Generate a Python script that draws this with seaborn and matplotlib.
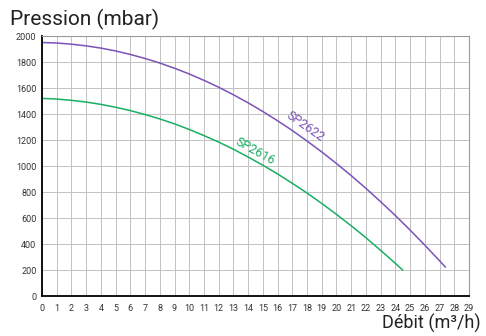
import numpy as np
import pandas as pd
import matplotlib
matplotlib.use("Agg")
import matplotlib.pyplot as plt
import seaborn as sns

# Courbes (débit m3/h, pression mbar)
debit_2622 = [0, 1, 2, 3, 4, 5, 6, 7, 8, 9, 10, 11, 12, 13, 14, 15, 16, 17, 18, 19,
              20, 21, 22, 23, 24, 25, 26, 27, 27.4]
pression_2622 = [1950, 1946, 1937, 1924, 1907, 1885, 1858, 1827, 1792, 1752, 1708, 1659,
                 1606, 1548, 1486, 1419, 1348, 1273, 1192, 1108, 1019, 926, 828, 725,
                 619, 507, 391, 271, 222]

debit_2616 = [0, 1, 2, 3, 4, 5, 6, 7, 8, 9, 10, 11, 12, 13, 14, 15, 16, 17, 18, 19,
              20, 21, 22, 23, 24, 24.5]
pression_2616 = [1520, 1515, 1505, 1492, 1474, 1452, 1426, 1396, 1362, 1324, 1281, 1234,
                 1184, 1129, 1069, 1006, 939, 867, 792, 712, 628, 540, 448, 351, 251, 199]

x_ticks = list(range(0, 30))
y_ticks = list(range(0, 2001, 200))

sns.set_style("white")
plt.rcParams["font.family"] = ["Roboto", "DejaVu Sans"]

df = pd.concat([
    pd.DataFrame({"debit": debit_2622, "pression": pression_2622, "pompe": "SP2622"}),
    pd.DataFrame({"debit": debit_2616, "pression": pression_2616, "pompe": "SP2616"}),
])
couleurs = {"SP2622": "#7b52b8", "SP2616": "#1aae62"}

fig = plt.figure(figsize=(4.86, 3.36), dpi=100)
ax = fig.add_axes([42 / 486, 40 / 336, 427 / 486, 260 / 336])

sns.lineplot(data=df, x="debit", y="pression", hue="pompe", palette=couleurs,
             linewidth=1.1, legend=False, ax=ax, sort=False)

ax.set_xlim(0, 29)
ax.set_ylim(0, 2000)
ax.set_xticks(x_ticks)
ax.set_yticks(y_ticks)
ax.set_xticks(np.arange(0.5, 29, 1), minor=True)
ax.set_yticks(np.arange(100, 2000, 200), minor=True)
ax.grid(True, which="major", color="#c2c2c2", linewidth=0.7)
ax.tick_params(axis="both", which="major", labelsize=6.5, colors="#333333", length=0, pad=4)
ax.tick_params(axis="x", which="minor", direction="in", length=2, color="#999999")
ax.tick_params(axis="y", which="minor", direction="inout", length=4, color="#999999")
ax.tick_params(axis="x", which="major", pad=6)
for s in ["top", "right"]:
    ax.spines[s].set_color("#999999")
    ax.spines[s].set_linewidth(0.8)
for s in ["left", "bottom"]:
    ax.spines[s].set_color("black")
    ax.spines[s].set_linewidth(1.3)
ax.set_xlabel("")
ax.set_ylabel("")

ax.text(17.9, 1300, "SP2622", color=couleurs["SP2622"], fontsize=9, rotation=-35,
        ha="center", va="center")
ax.text(14.5, 1110, "SP2616", color=couleurs["SP2616"], fontsize=9, rotation=-29,
        ha="center", va="center")

fig.text(10 / 486, 1 - 19 / 336, "Pression (mbar)", fontsize=15, color="#222222",
         ha="left", va="center")
fig.text(481 / 486, 1 - 323 / 336, "Débit (m³/h)", fontsize=13, color="#222222",
         ha="right", va="center")

fig.savefig("out.png", dpi=100)
